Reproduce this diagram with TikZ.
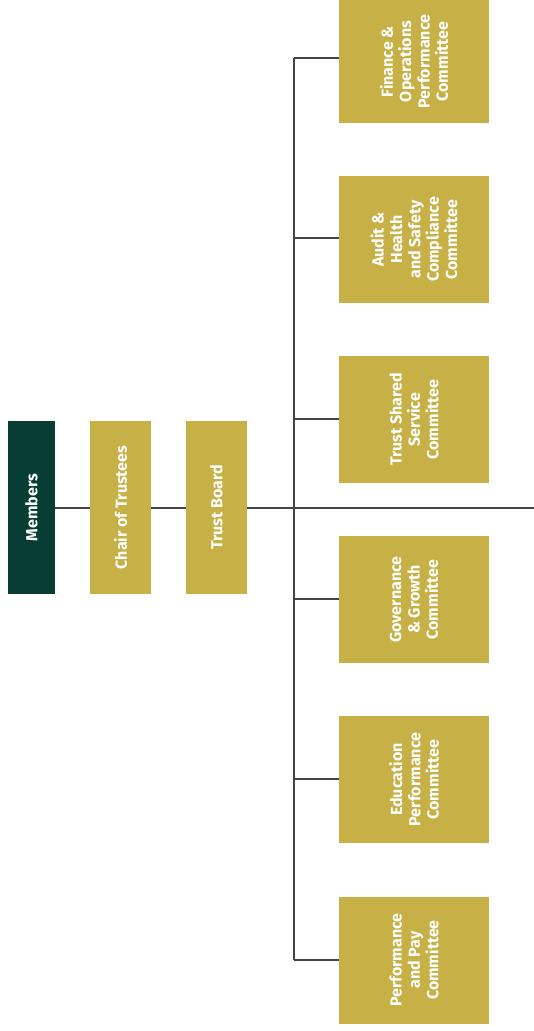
\documentclass[tikz,border=0pt]{standalone}
\usepackage{fontspec}
\setmainfont{Fira Sans}
\definecolor{gold}{HTML}{C7B045}
\definecolor{dkgreen}{HTML}{083D35}
\definecolor{linec}{HTML}{444444}
\begin{document}
\begin{tikzpicture}[x=0.75pt,y=-0.75pt,
  box/.style={fill=gold,draw=none,inner sep=0pt},
  lt/.style={rotate=90,text=white,align=center,font=\fontsize{12}{13.75}\selectfont\bfseries},
  conn/.style={draw=linec,line width=1.5pt}]
\useasboundingbox (0,0) rectangle (534,1031);
% left column
\node[box,fill=dkgreen,minimum width=47*0.75pt,minimum height=173*0.75pt] (mem) at (31.5,507.5) {};
\node[lt] (memt) at (mem.center) {Members};
\node[box,minimum width=61*0.75pt,minimum height=173*0.75pt] (chair) at (120.5,507.5) {};
\node[lt] (chairt) at (chair.center) {Chair of Trustees};
\node[box,minimum width=61*0.75pt,minimum height=173*0.75pt] (board) at (216.5,507.5) {};
\node[lt] (boardt) at (board.center) {Trust Board};
% committees
\tikzset{cbox/.style={box,minimum width=150*0.75pt,minimum height=127*0.75pt}}
\node[cbox,minimum height=123*0.75pt] (c1) at (414,61.5) {};
\node[cbox] (c2) at (414,239.5) {};
\node[cbox] (c3) at (414,419.5) {};
\node[cbox] (c4) at (414,599.5) {};
\node[cbox] (c5) at (414,779.5) {};
\node[cbox] (c6) at (414,960) {};
\node[lt] (t1) at (c1.center) {Finance \&\\Operations\\Performance\\Committee};
\node[lt] (t2) at (c2.center) {Audit \&\\Health\\and Safety\\Compliance\\Committee};
\node[lt] (t3) at (c3.center) {Trust Shared\\Service\\Committee};
\node[lt] (t4) at (c4.center) {Governance\\\& Growth\\Committee};
\node[lt] (t5) at (c5.center) {Education\\Performance\\Committee};
\node[lt] (t6) at (c6.center) {Performance\\and Pay\\Committee};
% connectors
\coordinate (rend) at (534,507.5);
\coordinate (btop) at (294,58);
\coordinate (bbot) at (294,960);
\draw[conn] (mem.east) -- (chair.west);
\draw[conn] (chair.east) -- (board.west);
\draw[conn] (board.east) -- (rend);
\draw[conn] (btop) -- (bbot);
\draw[conn] (btop) -- (btop -| c1.west);
\draw[conn] (294,238) -- (c2.west |- 0,238);
\draw[conn] (294,419) -- (c3.west |- 0,419);
\draw[conn] (294,599) -- (c4.west |- 0,599);
\draw[conn] (294,779) -- (c5.west |- 0,779);
\draw[conn] (bbot) -- (c6.west);
\end{tikzpicture}
\end{document}
